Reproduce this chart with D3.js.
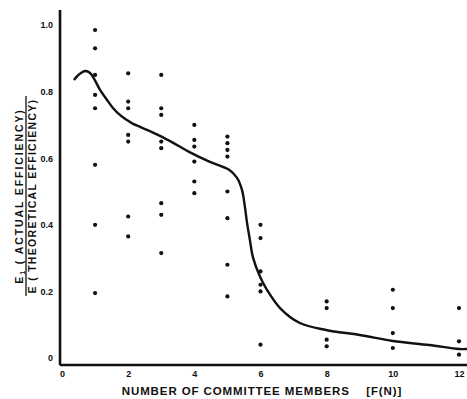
<!DOCTYPE html>
<html lang="en">
<head>
<meta charset="utf-8">
<title>Efficiency vs committee size</title>
<script src="https://cdn.jsdelivr.net/npm/d3@7"></script>
<style>
  body { margin: 0; background: #fff; }
  .tick text { font-family: "Liberation Sans", Arial, sans-serif; font-weight: bold; font-size: 9px; fill: #111; }
  .label { font-family: "Liberation Sans", Arial, sans-serif; font-weight: bold; fill: #111; }
</style>
</head>
<body>
<script>
// observed points: committee size and measured efficiency ratio
var pointN = [1,1,1,1,1,1,1,1,
              2,2,2,2,2,2,2,
              3,3,3,3,3,3,3,3,
              4,4,4,4,4,4,
              5,5,5,5,5,5,5,5,
              6,6,6,6,6,6,
              8,8,8,8,
              10,10,10,10,
              12,12,12];
var pointE = [0.985,0.93,0.85,0.79,0.75,0.58,0.40,0.195,
              0.855,0.77,0.75,0.67,0.65,0.425,0.365,
              0.85,0.75,0.73,0.65,0.63,0.465,0.43,0.315,
              0.70,0.655,0.635,0.59,0.53,0.495,
              0.665,0.645,0.625,0.605,0.50,0.42,0.28,0.185,
              0.40,0.36,0.26,0.22,0.20,0.04,
              0.17,0.15,0.055,0.035,
              0.205,0.15,0.075,0.03,
              0.15,0.05,0.01];

// hand drawn trend curve
var curveN = [0.36,0.52,0.7,0.85,1.0,1.15,1.36,1.54,1.75,1.96,2.15,2.36,2.57,2.96,3.36,3.84,4.47,5.05,5.29,5.44,5.53,5.59,5.68,5.77,5.99,6.20,6.59,7.19,7.98,9.0,10.0,11.1,12.0,12.25];
var curveE = [0.835,0.852,0.862,0.856,0.833,0.805,0.775,0.751,0.73,0.715,0.703,0.694,0.685,0.667,0.646,0.619,0.589,0.565,0.541,0.505,0.453,0.408,0.354,0.303,0.243,0.204,0.15,0.105,0.084,0.069,0.051,0.039,0.027,0.027];

var xTicks = [0,2,4,6,8,10,12];
var yTicks = [0,0.2,0.4,0.6,0.8,1.0];

var w = 467, h = 399;

var x = d3.scaleLinear().domain([0,12]).range([62,459]);
var y = d3.scaleLinear().domain([0,1]).range([358,25]);

var svg = d3.select("body").append("svg").attr("width", w).attr("height", h);

// axis lines
svg.append("line")
   .attr("x1", x(-0.06)).attr("x2", x(-0.06))
   .attr("y1", y(1.045)).attr("y2", y(-0.022))
   .attr("stroke", "#111").attr("stroke-width", 2.6);
svg.append("line")
   .attr("x1", x(-0.06)).attr("x2", w)
   .attr("y1", y(-0.021)).attr("y2", y(-0.021))
   .attr("stroke", "#111").attr("stroke-width", 2.4);

// tick labels
var yAxis = d3.axisLeft(y).tickValues(yTicks).tickSize(0).tickPadding(8)
              .tickFormat(function(d) { return d === 0 ? "0" : d3.format(".1f")(d); });
svg.append("g").attr("transform", "translate(" + 61 + ",0)").call(yAxis)
   .call(function(g) { g.select(".domain").remove(); });

var xAxis = d3.axisBottom(x).tickValues(xTicks).tickSize(0).tickPadding(5);
svg.append("g").attr("transform", "translate(0," + 366 + ")").call(xAxis)
   .call(function(g) { g.select(".domain").remove(); });

// trend curve
var line = d3.line().x(function(d) { return x(d[0]); })
                    .y(function(d) { return y(d[1]); })
                    .curve(d3.curveCatmullRom.alpha(0.5));
svg.append("path").datum(d3.zip(curveN, curveE))
   .attr("d", line)
   .attr("fill", "none").attr("stroke", "#111").attr("stroke-width", 2.4);

// points
svg.selectAll(".dot").data(d3.zip(pointN, pointE)).enter().append("circle")
   .attr("cx", function(d) { return x(d[0]); })
   .attr("cy", function(d) { return y(d[1]); })
   .attr("r", 2.1)
   .attr("fill", "#111");

// x label
svg.append("text").attr("class", "label")
   .attr("x", 262).attr("y", 395)
   .attr("text-anchor", "middle")
   .style("font-size", "11.5px").style("letter-spacing", "0.9px")
   .attr("xml:space", "preserve")
   .text("NUMBER OF COMMITTEE MEMBERS    [F(N)]");

// y label as a fraction
var yl = svg.append("g").attr("transform", "translate(26,196) rotate(-90)");
yl.append("text").attr("class", "label").attr("x", 0).attr("y", -3)
  .attr("text-anchor", "middle").style("font-size", "10.5px").style("letter-spacing", "1.9px")
  .html("E<tspan font-size=\"7px\" dy=\"2\">1</tspan><tspan dy=\"-2\"> ( ACTUAL EFFICIENCY)</tspan>");
yl.append("line").attr("x1", -100).attr("x2", 100).attr("y1", 0).attr("y2", 0)
  .attr("stroke", "#111").attr("stroke-width", 1.3);
yl.append("text").attr("class", "label").attr("x", 0).attr("y", 10)
  .attr("text-anchor", "middle").style("font-size", "10.5px").style("letter-spacing", "1.3px")
  .text("E ( THEORETICAL EFFICIENCY)");
</script>
</body>
</html>
